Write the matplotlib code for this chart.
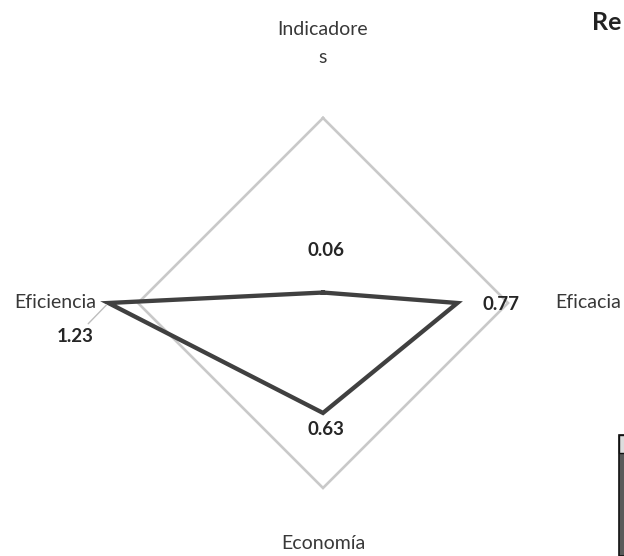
import numpy as np
import matplotlib
matplotlib.use("Agg")
import matplotlib.pyplot as plt
from matplotlib.patches import Rectangle

categories = ["Indicadores", "Eficacia", "Economía", "Eficiencia"]
tick_labels = ["Indicadore\ns", "Eficacia", "Economía", "Eficiencia"]
values = [0.06, 0.77, 0.63, 1.23]
value_labels = ["0.06", "0.77", "0.63", "1.23"]
ring_max = 1.06

plt.rcParams["font.family"] = ["Lato", "DejaVu Sans"]

W, H, DPI = 624, 556, 100
PT = 72 / DPI  # pixels -> points
fig = plt.figure(figsize=(W / DPI, H / DPI), dpi=DPI)
fig.patch.set_facecolor("white")

cx, cy, R = 323, 303, 185
ax = fig.add_axes([(cx - R) / W, (H - cy - R) / H, 2 * R / W, 2 * R / H],
                  projection="polar")
ax.set_theta_zero_location("N")
ax.set_theta_direction(-1)
ax.set_ylim(0, ring_max)
ax.grid(False)
ax.set_xticks([])
ax.set_yticks([])
ax.spines["polar"].set_visible(False)
ax.patch.set_alpha(0)

theta = np.linspace(0, 2 * np.pi, len(categories), endpoint=False)
closed = np.append(theta, theta[0])

# outer gridline (diamond)
ax.plot(closed, [ring_max] * len(closed), color="#c9c9c9", lw=1.9,
        solid_joinstyle="miter", clip_on=False)
# series
ax.plot(closed, values + values[:1], color="#404040", lw=3.1,
        solid_joinstyle="miter", clip_on=False, zorder=3)

# category labels, offsets in px from the ring vertex
cat_style = [((0, 52), "center", "bottom"), ((47, 0), "left", "center"),
             ((0, -47), "center", "top"), ((-42, 0), "right", "center")]
for t, lab, ((dx, dy), ha, va) in zip(theta, tick_labels, cat_style):
    ax.annotate(lab, xy=(t, ring_max), xytext=(dx * PT, dy * PT),
                textcoords="offset points", ha=ha, va=va, fontsize=14,
                color="#383838", linespacing=1.8, annotation_clip=False)

# value labels, offsets in px from each data point
val_style = [((3, 42), "center", "center"), ((25, -2), "left", "center"),
             ((3, -17), "center", "center"), ((-33, -34), "center", "center")]
for i, (t, v, lab, ((dx, dy), ha, va)) in enumerate(
        zip(theta, values, value_labels, val_style)):
    kw = {}
    if i == 3:
        kw["arrowprops"] = dict(arrowstyle="-", color="#bdbdbd", lw=1.0,
                                shrinkA=2, shrinkB=2)
    ax.annotate(lab, xy=(t, v), xytext=(dx * PT, dy * PT),
                textcoords="offset points", ha=ha, va=va, fontsize=13.5,
                fontweight="bold", color="#262626", annotation_clip=False,
                zorder=4, **kw)

# fragments of neighbouring content on the scanned page
fig.text(592 / W, 1 - 30 / H, "Re", fontsize=18, fontweight="bold",
         color="#222222", ha="left", va="baseline")
fig.patches.append(Rectangle((619 / W, 0), 10 / W, (H - 435) / H,
                             transform=fig.transFigure, facecolor="#5a5a5a",
                             edgecolor="#111111", lw=1.2))
fig.patches.append(Rectangle((619 / W, (H - 453) / H), 10 / W, 18 / H,
                             transform=fig.transFigure, facecolor="#dddddd",
                             edgecolor="#111111", lw=1.0))

fig.savefig("out.png", dpi=DPI)
